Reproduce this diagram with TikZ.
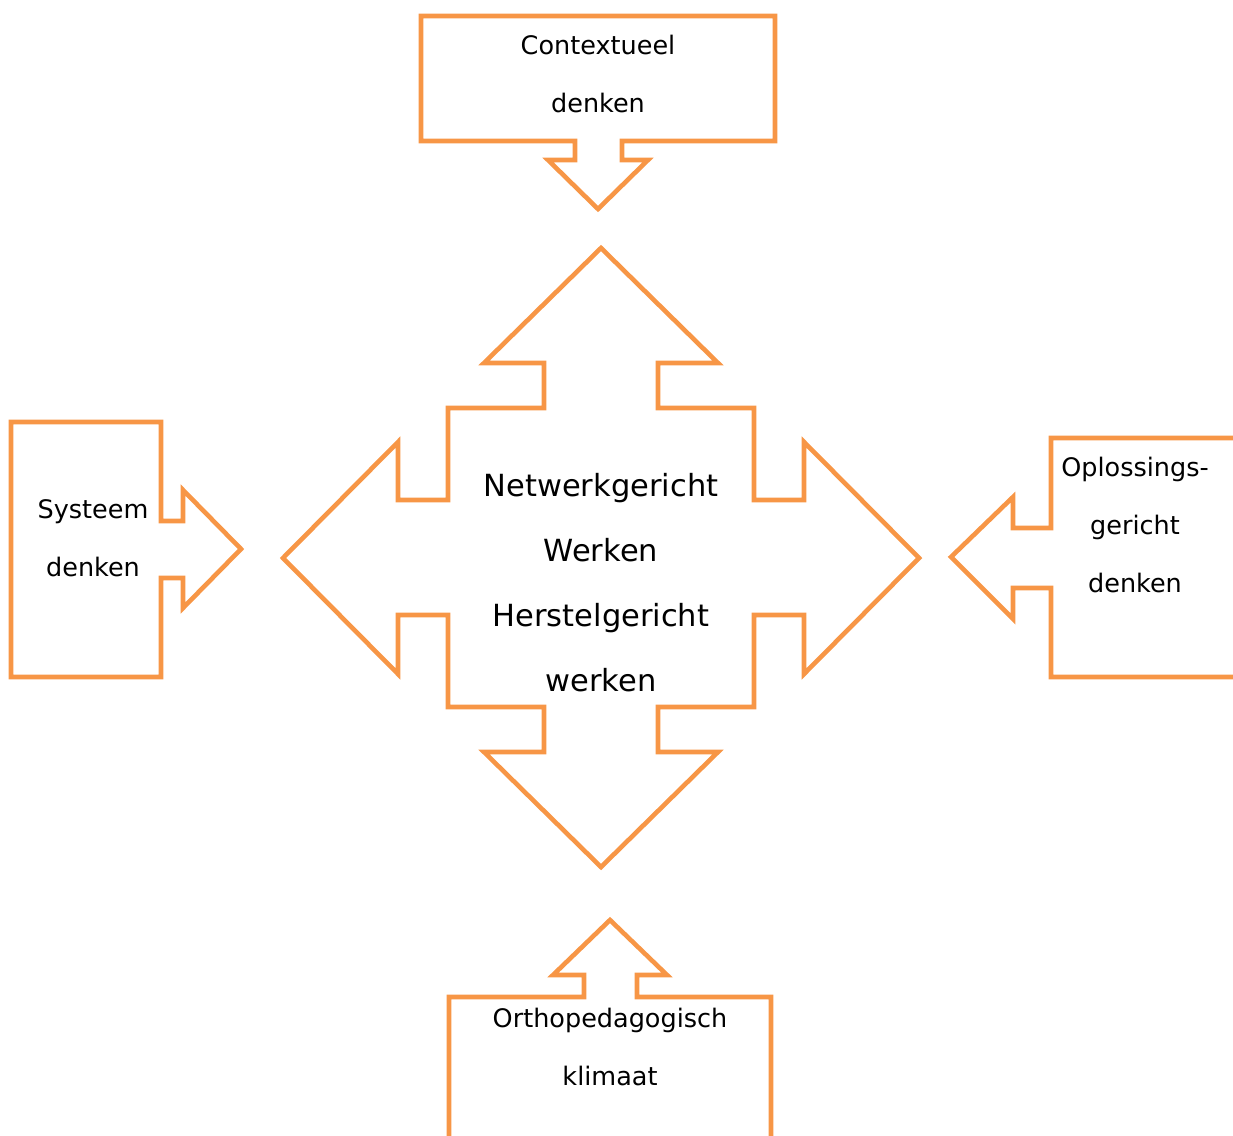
\documentclass[tikz,border=0pt]{standalone}
\usepackage{fontspec}
\setmainfont{DejaVu Sans}
\definecolor{accentorange}{RGB}{247,150,70}

\begin{document}
\begin{tikzpicture}[
                x=1pt, y=-1pt,
                outline/.style={draw=accentorange, line width=4.6pt, line join=miter},
                txt/.style={align=center, inner sep=0pt, font=\fontsize{25.5}{58}\selectfont},
                bigtxt/.style={align=center, inner sep=0pt, font=\fontsize{30.5}{65}\selectfont}
            ]
            \clip (0,0) rectangle (1233,1135);

            % middle: four-way arrow
            \draw[outline] (601,248) -- (718,363) -- (658,363) -- (658,408) -- (754,408) -- (754,500)
                -- (804,500) -- (804,442) -- (919,558) -- (804,674) -- (804,615) -- (754,615)
                -- (754,707) -- (658,707) -- (658,752) -- (718,752) -- (601,867) -- (484,752)
                -- (544,752) -- (544,707) -- (448,707) -- (448,615) -- (398,615) -- (398,674)
                -- (283,558) -- (398,442) -- (398,500) -- (448,500) -- (448,408) -- (544,408)
                -- (544,363) -- (484,363) -- cycle;
            \node[bigtxt] (kern) at (601,583) {Netwerkgericht\\Werken\\Herstelgericht\\werken};

            % top
            \draw[outline] (421,16) -- (775,16) -- (775,141) -- (622,141) -- (622,160) -- (648,160)
                -- (598,209) -- (548,160) -- (575,160) -- (575,141) -- (421,141) -- cycle;
            \node[txt] (context) at (598,74) {Contextueel\\denken};

            % left
            \draw[outline] (11,422) -- (161,422) -- (161,521) -- (183,521) -- (183,490) -- (241,549)
                -- (183,608) -- (183,578) -- (161,578) -- (161,677) -- (11,677) -- cycle;
            \node[txt] (systeem) at (93,538) {Systeem\\denken};

            % right
            \draw[outline] (1051,438) -- (1245,438) -- (1245,677) -- (1051,677) -- (1051,588) -- (1013,588)
                -- (1013,619) -- (951,557) -- (1013,497) -- (1013,528) -- (1051,528) -- cycle;
            \node[txt] (oplossing) at (1135,525) {Oplossings-\\gericht\\denken};

            % bottom
            \draw[outline] (449,1150) -- (449,997) -- (584,997) -- (584,975) -- (553,975) -- (610,920)
                -- (667,975) -- (637,975) -- (637,997) -- (771,997) -- (771,1150);
            \node[txt] (klimaat) at (610,1047) {Orthopedagogisch\\klimaat};
        \end{tikzpicture}
\end{document}
